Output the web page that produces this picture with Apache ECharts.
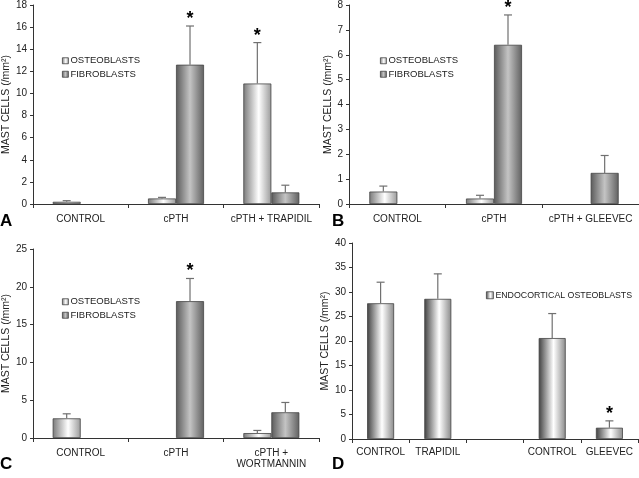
<!DOCTYPE html>
<html><head><meta charset="utf-8">
<script src="https://cdn.jsdelivr.net/npm/echarts@6/dist/echarts.min.js"></script>
<style>html,body{margin:0;padding:0;background:#fff}#c{width:639px;height:478px}</style>
</head><body><div id="c"></div>
<script>
// ---- Data ----
const catsA = ['CONTROL', 'cPTH', 'cPTH + TRAPIDIL'];
const osteoA = [0.2, 0.5, 10.9];
const osteoErrA = [0.3, 0.6, 14.6];
const fibroA = [null, 12.6, 1.05];
const fibroErrA = [null, 16.1, 1.7];
const starA = [[1, 'f'], [2, 'o']];

const catsB = ['CONTROL', 'cPTH', 'cPTH + GLEEVEC'];
const osteoB = [0.5, 0.22, null];
const osteoErrB = [0.72, 0.35, null];
const fibroB = [null, 6.4, 1.25];
const fibroErrB = [null, 7.6, 1.95];
const starB = [[1, 'f']];

const catsC = ['CONTROL', 'cPTH', 'cPTH +\nWORTMANNIN'];
const osteoC = [2.6, null, 0.65];
const osteoErrC = [3.2, null, 1.0];
const fibroC = [null, 18.1, 3.4];
const fibroErrC = [null, 21.1, 4.7];
const starC = [[1, 'f']];

const catsD = ['CONTROL', 'TRAPIDIL', '', 'CONTROL', 'GLEEVEC'];
const endoD = [27.7, 28.6, null, 20.6, 2.3];
const endoErrD = [32.0, 33.7, null, 25.6, 3.7];
const starD = [[4, 'o']];

const yMax = [18, 8, 25, 40];
const yInt = [2, 1, 5, 5];

// ---- Styles ----
const FONT = 'Liberation Sans, Arial, sans-serif';
const grad = (stops) => ({type: 'linear', x: 0, y: 0, x2: 1, y2: 0,
  colorStops: stops.map(s => ({offset: s[0], color: s[1]}))});
const osteoColor = grad([[0, '#7a7a7a'], [0.55, '#ffffff'], [1, '#9a9a9a']]);
const fibroColor = grad([[0, '#5a5a5a'], [0.5, '#c4c4c4'], [1, '#606060']]);
const endoColor = grad([[0, '#404040'], [0.55, '#ffffff'], [1, '#8a8a8a']]);

const grids = [
  {left: 31, top: 3.5, width: 288, height: 200.5},
  {left: 349, top: 3, width: 290, height: 201},
  {left: 31, top: 249, width: 288, height: 189},
  {left: 352, top: 243, width: 286, height: 196}
];
const nameGaps = [17, 15.5, 17, 19];
const labelMargins = [10, 10, 10, 8];

const xAxes = [catsA, catsB, catsC, catsD].map((cats, i) => ({
  type: 'category', gridIndex: i, data: cats,
  axisLine: {lineStyle: {color: '#333', width: 1}},
  axisTick: {show: true, alignWithLabel: false, length: 4, lineStyle: {color: '#333'}},
  axisLabel: {color: '#222', fontSize: 10, fontFamily: FONT, margin: labelMargins[i], interval: 0, lineHeight: 11}
}));
const yAxes = yMax.map((m, i) => ({
  type: 'value', gridIndex: i, min: 0, max: m, interval: yInt[i],
  name: 'MAST CELLS (/mm²)', nameLocation: 'middle', nameGap: nameGaps[i],
  nameTextStyle: {color: '#222', fontSize: 10.5, fontFamily: FONT},
  axisLine: {show: true, lineStyle: {color: '#333', width: 1}},
  axisTick: {show: true, length: 3, lineStyle: {color: '#333'}},
  axisLabel: {color: '#222', fontSize: 10, fontFamily: FONT, margin: 6},
  splitLine: {show: false}
}));

const BW = 28;
function barSeries(name, data, gi, color, bw) {
  return {type: 'bar', name, data, xAxisIndex: gi, yAxisIndex: gi,
    barWidth: bw, barGap: '0%',
    itemStyle: {color, borderColor: '#444', borderWidth: 0.8}};
}
// err series: data rows [catIndex, value, top, offsetSign, star]
function errSeries(gi, rows, bw) {
  return {type: 'custom', xAxisIndex: gi, yAxisIndex: gi, silent: true, z: 5,
    data: rows,
    encode: {x: 0, y: 2},
    renderItem: function (params, api) {
      const ci = api.value(0), v = api.value(1), top = api.value(2), sgn = api.value(3), star = api.value(4);
      const pv = api.coord([ci, v]);
      const pt = api.coord([ci, top]);
      const x = pv[0] + sgn * bw / 2;
      const ch = [
        {type: 'line', shape: {x1: x, y1: pv[1], x2: x, y2: pt[1]}, style: {stroke: '#707070', lineWidth: 1.2}},
        {type: 'line', shape: {x1: x - 4, y1: pt[1], x2: x + 4, y2: pt[1]}, style: {stroke: '#707070', lineWidth: 1.2}}
      ];
      if (star) ch.push({type: 'text', x: x, y: pt[1] - 7,
        style: {text: '*', fontSize: 18, fontWeight: 'bold', fontFamily: FONT, fill: '#000', align: 'center', verticalAlign: 'middle'}});
      return {type: 'group', children: ch};
    }};
}
function rows(vals, errs, sgn, stars, key) {
  const out = [];
  vals.forEach((v, i) => {
    if (v == null) return;
    const st = stars.some(s => s[0] === i && s[1] === key) ? 1 : 0;
    out.push([i, v, errs[i], sgn, st]);
  });
  return out;
}

const series = [
  barSeries('OSTEOBLASTS', osteoA, 0, osteoColor, BW),
  barSeries('FIBROBLASTS', fibroA, 0, fibroColor, BW),
  errSeries(0, rows(osteoA, osteoErrA, -1, starA, 'o').concat(rows(fibroA, fibroErrA, 1, starA, 'f')), BW),
  barSeries('OSTEOBLASTS', osteoB, 1, osteoColor, BW),
  barSeries('FIBROBLASTS', fibroB, 1, fibroColor, BW),
  errSeries(1, rows(osteoB, osteoErrB, -1, starB, 'o').concat(rows(fibroB, fibroErrB, 1, starB, 'f')), BW),
  barSeries('OSTEOBLASTS', osteoC, 2, osteoColor, BW),
  barSeries('FIBROBLASTS', fibroC, 2, fibroColor, BW),
  errSeries(2, rows(osteoC, osteoErrC, -1, starC, 'o').concat(rows(fibroC, fibroErrC, 1, starC, 'f')), BW),
  barSeries('ENDOCORTICAL OSTEOBLASTS', endoD, 3, endoColor, 27),
  errSeries(3, rows(endoD, endoErrD, 0, starD, 'o'), 27)
];

const legendBase = {orient: 'vertical', itemWidth: 6, itemHeight: 6, itemGap: 3, padding: 0,
  selectedMode: false, icon: 'rect',
  textStyle: {color: '#222', fontSize: 9.5, lineHeight: 10.5, fontFamily: FONT, padding: [0, 0, 0, -3]},
  itemStyle: {borderColor: '#444', borderWidth: 0.8}};
const legends = [
  Object.assign({}, legendBase, {left: 62, top: 55.5, data: ['OSTEOBLASTS', 'FIBROBLASTS']}),
  Object.assign({}, legendBase, {left: 380, top: 55.5, data: ['OSTEOBLASTS', 'FIBROBLASTS']}),
  Object.assign({}, legendBase, {left: 62, top: 296.5, data: ['OSTEOBLASTS', 'FIBROBLASTS']}),
  Object.assign({}, legendBase, {left: 486, top: 290, itemWidth: 7, itemHeight: 7,
    textStyle: Object.assign({}, legendBase.textStyle, {fontSize: 8.8}), data: ['ENDOCORTICAL OSTEOBLASTS']})
];

const letterStyle = {fontSize: 17, fontWeight: 'bold', fontFamily: FONT, fill: '#000'};
const graphic = [
  {type: 'text', left: 0, top: 213, style: Object.assign({text: 'A'}, letterStyle)},
  {type: 'text', left: 332, top: 213, style: Object.assign({text: 'B'}, letterStyle)},
  {type: 'text', left: 0, top: 456, style: Object.assign({text: 'C'}, letterStyle)},
  {type: 'text', left: 332, top: 456, style: Object.assign({text: 'D'}, letterStyle)}
];

const chart = echarts.init(document.getElementById('c'), null, {renderer: 'canvas'});
chart.setOption({
  animation: false,
  backgroundColor: '#fff',
  grid: grids,
  xAxis: xAxes,
  yAxis: yAxes,
  legend: legends,
  series,
  graphic
});
</script>
</body></html>
